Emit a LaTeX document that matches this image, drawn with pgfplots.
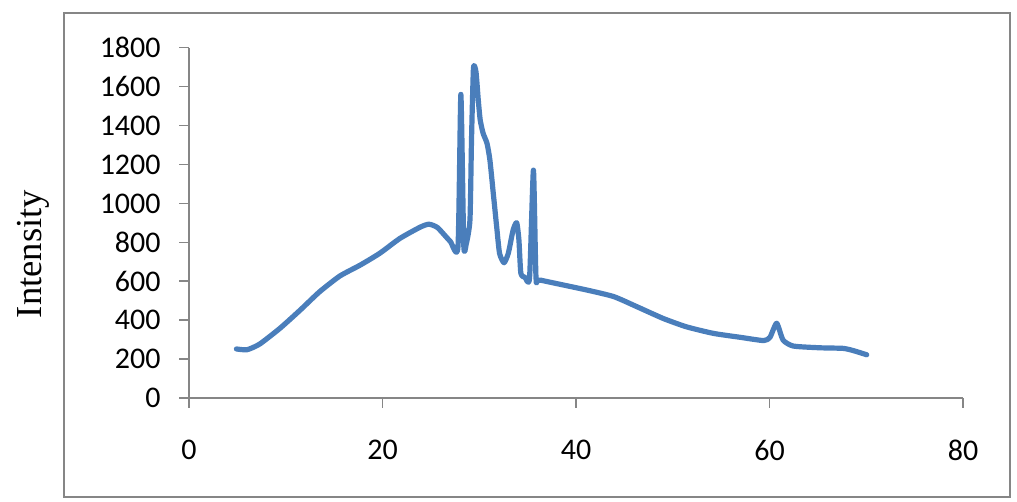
\documentclass[border=0pt]{standalone}
\usepackage{pgfplots}
\pgfplotsset{compat=1.18}
\usepackage{fontspec}
\setmainfont{Carlito}
\newfontfamily\timesfont{Liberation Serif}
\definecolor{linec}{HTML}{4A7EBB}
\definecolor{axgray}{HTML}{868686}
\begin{document}
\begin{tikzpicture}
\path[use as bounding box] (0,0) rectangle (508.5pt,251pt);
\draw[axgray, line width=1.1pt] (32pt,2.5pt) rectangle (505pt,244.5pt);
\begin{axis}[
  at={(94.5pt,52pt)}, anchor=south west,
  scale only axis, width=387pt, height=175.15pt,
  xmin=0, xmax=80, ymin=0, ymax=1800,
  axis lines=left,
  axis line style={-, axgray, line width=0.75pt},
  xtick={0,20,40,60,80},
  ytick={0,200,...,1800},
  tick align=outside,
  major tick length=5pt,
  tick style={axgray, line width=0.75pt},
  /pgf/number format/assume math mode=true,
  /pgf/number format/1000 sep={},
  tick label style={font=\fontsize{15}{18}\selectfont, text=black},
  yticklabel style={anchor=east, inner sep=0pt, xshift=-9pt},
  xticklabel style={anchor=north, inner sep=0pt, yshift=-16pt},
  clip=false,
]
\addplot[linec, line width=2.6pt, line cap=round, line join=round, smooth, tension=0.35] coordinates {
(4.9,252) (6.0,248) (7.3,277) (9.4,358) (11.5,452) (13.5,546) (15.6,627)
(17.7,683) (19.7,743) (21.8,820) (23.9,878) (24.8,893) (25.7,875) (27.0,805)
(27.8,777) (28.1,1560) (28.4,786) (28.65,790) (29.04,915) (29.2,1326)
(29.4,1694) (29.66,1677) (29.9,1531) (30.1,1428) (30.4,1360) (30.8,1309)
(31.1,1223) (31.45,1052) (31.8,880) (32.1,743) (32.56,695) (33.0,743)
(33.5,863) (33.87,901) (34.1,812) (34.3,641) (34.73,620) (35.2,618)
(35.6,1171) (35.87,615) (36.3,606) (41.1,555) (43.9,521) (46.3,469)
(49.0,409) (51.4,366) (54.2,332) (56.95,312) (59.4,295) (60.05,312)
(60.74,384) (61.4,298) (62.46,267) (65.2,258) (67.6,255) (68.7,243)
(70.05,222)
};
\end{axis}
\node[rotate=90, font=\timesfont\fontsize{18.3}{22}\selectfont] at (16.5pt,124pt) {Intensity};
\end{tikzpicture}
\end{document}
